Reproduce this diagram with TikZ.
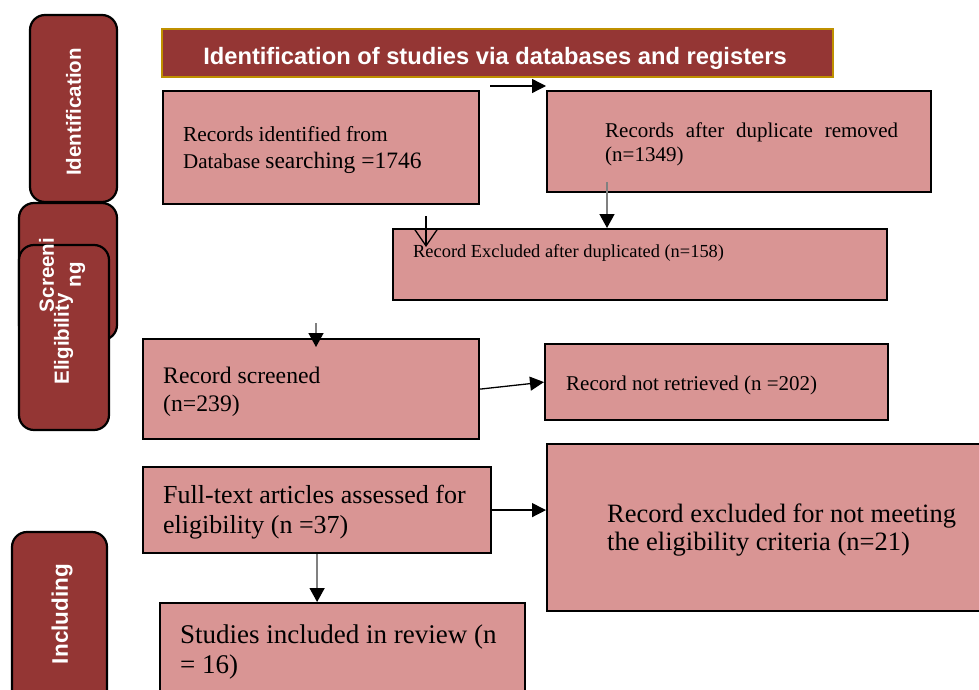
\documentclass[tikz,border=0pt]{standalone}
\usepackage{fontspec}
\setmainfont{Liberation Serif}
\newfontfamily\sidesans{Liberation Sans}
\usetikzlibrary{arrows.meta}
\definecolor{darkred}{RGB}{148,54,52}
\definecolor{pinkfill}{RGB}{217,149,148}
\definecolor{goldline}{RGB}{191,144,0}
\newcommand{\fs}[2]{\fontsize{#1}{#2}\selectfont}
\tikzset{
  sidebox/.style={draw=black, line width=2.2pt, fill=darkred, rounded corners=15pt},
  sidetext/.style={text=white, font=\sidesans\bfseries\fs{20.5}{27}, rotate=90, align=center, inner sep=0pt},
  pbox/.style={draw=black, line width=2.2pt, fill=pinkfill},
  hbox/.style={draw=goldline, line width=2.2pt, fill=darkred},
  txt/.style={anchor=base west, inner sep=0pt},
  arrblack/.style={draw=black, line width=1.3pt, -{Triangle[length=14pt,width=14pt,color=black]}},
  arrgray/.style={draw=gray, line width=1.5pt, -{Triangle[length=14pt,width=15pt,color=black]}},
  arropen/.style={draw=black, line width=1.3pt, -{Straight Barb[length=16pt,width=22pt,line width=1.3pt]}}
}
\begin{document}
\begin{tikzpicture}[x=1pt,y=-1pt]
\useasboundingbox (0,0) rectangle (979,690);
\begin{scope}
\clip (0,0) rectangle (979,690);
% side boxes
\draw[sidebox] (30,15) rectangle (117,202);
\draw[sidebox] (19,203) rectangle (117,340);
\draw[sidebox] (19,245) rectangle (109,430);
\draw[sidebox] (12,532) rectangle (107,710);
\node[sidetext] (lblI) at (73.5,112) {Identification};
\node[sidetext] (lblS) at (62,275) {Screeni\\ng};
\node[sidetext] (lblE) at (63.5,339) {Eligibility};
\node[sidetext, font=\sidesans\bfseries\fs{22.5}{27}] (lblInc) at (62,614) {Including};

% header
\node[hbox, minimum width=671pt, minimum height=48pt, anchor=north west, inner sep=0pt] (hdr) at (161,28) {};
\node[anchor=base, inner sep=0pt, text=white, font=\sidesans\bfseries\fs{23.7}{28}] (hdrt) at (495,65) {Identification of studies via databases and registers};

% boxes
\node[pbox, minimum width=316pt, minimum height=113pt, anchor=north west, inner sep=0pt] (A) at (162,90) {};
\node[pbox, minimum width=384pt, minimum height=101pt, anchor=north west, inner sep=0pt] (B) at (546,90) {};
\node[pbox, minimum width=494pt, minimum height=71pt, anchor=north west, inner sep=0pt] (C) at (392,228) {};
\node[pbox, minimum width=336pt, minimum height=100pt, anchor=north west, inner sep=0pt] (D) at (142,338) {};
\node[pbox, minimum width=343pt, minimum height=76pt, anchor=north west, inner sep=0pt] (E) at (544,343) {};
\node[pbox, minimum width=348pt, minimum height=86pt, anchor=north west, inner sep=0pt] (F) at (142,466) {};
\node[pbox, minimum width=444pt, minimum height=167pt, anchor=north west, inner sep=0pt] (G) at (546,443) {};
\node[pbox, minimum width=365pt, minimum height=110pt, anchor=north west, inner sep=0pt] (H) at (159,602) {};

% texts
\node[txt, font=\fs{21.4}{26}] (tA1) at (183,142) {Records identified from};
\node[txt] (tA2) at (183,168) {\fs{21}{26}Database \fs{23.5}{26}searching =1746};
\node[txt, font=\fs{21}{24}] (tB1) at (605,137) {\hbox to 293pt{Records\hfill after\hfill duplicate\hfill removed}};
\node[txt, font=\fs{21}{24}] (tB2) at (605,161) {(n=1349)};
\node[txt, font=\fs{18.4}{22}] (tC) at (413,257) {Record Excluded after duplicated (n=158)};
\node[txt, font=\fs{23.7}{28}] (tD1) at (163,383) {Record screened};
\node[txt, font=\fs{23.7}{28}] (tD2) at (163,411) {(n=239)};
\node[txt, font=\fs{21}{24}] (tE) at (566,390) {Record not retrieved (n =202)};
\node[txt, font=\fs{26}{30}] (tF1) at (163,503) {Full-text articles assessed for};
\node[txt, font=\fs{26}{30}] (tF2) at (163,533) {eligibility (n =37)};
\node[txt, font=\fs{26.5}{30}] (tG1) at (607,522) {Record excluded for not meeting};
\node[txt, font=\fs{26.5}{30}] (tG2) at (607,550) {the eligibility criteria (n=21)};
\node[txt, font=\fs{27}{30}] (tH1) at (180,643) {Studies included in review (n};
\node[txt, font=\fs{27}{30}] (tH2) at (180,673) {= 16)};

% connectors
\coordinate (t1) at (490,86);
\draw[arrblack] (t1) -- (t1 -| B.west);
\coordinate (b1) at (607,182);
\draw[arrgray] (b1) -- (b1 |- C.north);
\coordinate (v1) at (426,216);
\coordinate (v2) at (426,247);
\draw[arropen] (v1) -- (v2);
\coordinate (d1) at (316,323);
\coordinate (d2) at (316,347);
\draw[arrgray] (d1) -- (d2);
\draw[arrblack] (D.east) -- (E.west);
\draw[arrblack] (F.east) -- (F.east -| G.west);
\draw[arrgray] (F.south) -- (F.south |- H.north);
\end{scope}
\end{tikzpicture}
\end{document}
